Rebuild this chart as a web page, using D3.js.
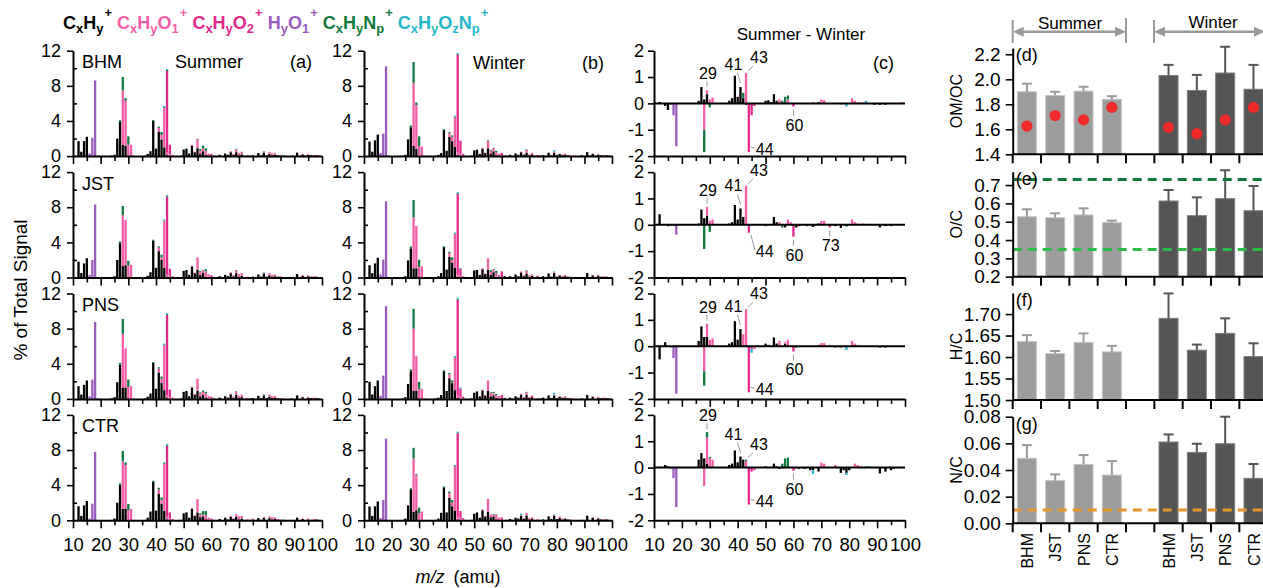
<!DOCTYPE html>
<html>
<head>
<meta charset="utf-8">
<script src="https://cdn.jsdelivr.net/npm/d3@7"></script>
<style>
  body { margin: 0; background: #fff; }
  svg { display: block; }
</style>
</head>
<body>
<svg width="1263" height="588"></svg>
<script>
// ion families, bottom to top of each stack
var families = ["CxHy", "CxHyO1", "CxHyO2", "HyO1", "CxHyNp", "CxHyOzNp"];
var familyColors = ["#000000", "#f45ea6", "#e3288b", "#9a5cbd", "#10793d", "#25b6c9"];
var sites = ["BHM", "JST", "PNS", "CTR"];
var mzTicks = [10, 20, 30, 40, 50, 60, 70, 80, 90, 100];

// spectra rows: [m/z, CxHy, CxHyO1, CxHyO2, HyO1, CxHyNp, CxHyOzNp]  (% of total signal)
var summerBHM = [
  [12,1.7],[13,0.5],[14,1.7],[15,2.2],[16,0,0,0,0.3],[17,0,0,0,2.1],[18,0,0,0,8.6],[19,0,0,0,0.05],
  [24,0.05],[25,0.15],[26,2.0],[27,3.9,0,0,0,0.2],[28,1.3,6.2,0,0,1.5],[29,1.2,5.1,0,0,0.3],[30,0.05,1.25,0,0,0.95],[31,0,1.3],[32,0,0.05],
  [36,0.05],[37,0.25],[38,0.55],[39,4.0,0,0,0,0.1],[40,0.85],[41,2.8,0.4,0,0,0.15],[42,1.9,0.5,0,0,0.35],[43,1.0,4.5,0,0,0.1,0.1],[44,0.1,0.3,9.3,0,0.1,0.1],[45,0,0.2,1.1],[46,0,0.05,0.1],
  [49,0.05],[50,0.75],[51,0.85],[52,0.3],[53,1.2,0.1],[54,0.45,0.05],[55,0.9,1.0,0,0,0.05],[56,0.3,0.3,0,0,0.2],[57,0.55,0.35,0,0,0.3],[58,0.1,0.5,0,0,0.3],[59,0,0.15,0.1],[60,0,0.05,0.2],[61,0.05],
  [63,0.15],[65,0.3],[66,0.15],[67,0.45,0.1],[68,0.15,0.1],[69,0.45,0.3,0,0,0.05],[70,0.1,0.25],[71,0.2,0.3],[72,0,0.05],[73,0,0,0.1],[74,0.05],[75,0.1],
  [77,0.35],[78,0.1],[79,0.4,0.1,0,0,0,0.05],[80,0.1],[81,0.25,0.2],[82,0.1,0.2],[83,0.15,0.2],[84,0.1],[85,0,0.15],[86,0,0.05,0,0,0,0.1],
  [89,0.05],[91,0.4],[92,0.05],[93,0.2,0.05],[94,0.05],[95,0.15,0.1],[96,0.1],[97,0.05,0.1],[98,0.1],[99,0.05,0.05]
];
var winterBHM = [
  [12,1.65],[13,0.5],[14,1.8],[15,2.45],[16,0,0,0,0.35],[17,0,0,0,2.55],[18,0,0,0,10.23],[19,0,0,0,0.05],
  [24,0.05],[25,0.15],[26,1.9],[27,3.28,0,0,0,0.2],[28,1.15,7.2,0,0,2.35],[29,0.85,4.95,0,0,0.3],[30,0.05,1.1,0,0,1.1],[31,0,1.08],[32,0,0.05],
  [36,0.05],[37,0.15],[38,0.35],[39,2.95,0,0,0,0.1],[40,0.6],[41,2.18,0.4,0,0,0.15],[42,1.7,0.5,0,0,0.15],[43,1.05,3.35,0,0,0.1,0.1],[44,0.1,0.3,11.15,0,0.1,0.1],[45,0,0.2,1.55],[46,0,0.1,0.15],
  [49,0.05],[50,0.65],[51,0.73],[52,0.25],[53,0.85,0.1],[54,0.35,0.05],[55,0.9,0.85,0,0,0.05],[56,0.3,0.3,0,0,0.1],[57,0.55,0.35,0,0,0.05],[58,0.1,0.35,0,0,0.15],[59,0,0.15,0.1],[60,0,0.05,0.32],[61,0.05],
  [63,0.15],[65,0.3],[66,0.15],[67,0.45,0.05],[68,0.15,0.1],[69,0.4,0.3,0,0,0.05],[70,0.1,0.1],[71,0.2,0.18],[72,0,0.05],[73,0,0,0.12],[74,0.05],[75,0.1],
  [77,0.38],[78,0.1],[79,0.4,0.1,0,0,0,0.17],[80,0.1],[81,0.25,0],[82,0.1,0.1],[83,0.15,0.15],[84,0.1],[85,0,0.1],[86,0,0.05],
  [89,0.1],[91,0.45],[92,0.05],[93,0.25,0.05],[94,0.05],[95,0.15,0.1],[96,0.1],[97,0.05,0.1],[98,0.1],[99,0.05]
];
var summerJST = [
  [12,1.8],[13,0.5],[14,1.6],[15,2.2],[16,0,0,0,0.3],[17,0,0,0,2.0],[18,0,0,0,8.3],[19,0,0,0,0.05],
  [24,0.05],[25,0.15],[26,2.0],[27,3.9,0,0,0,0.2],[28,1.3,5.8,0,0,1.05],[29,1.4,5.15],[30,0.05,1.3,0,0,0.55],[31,0,1.45],[32,0,0.05],
  [36,0.05],[37,0.2],[38,0.6],[39,4.2,0,0,0,0.1],[40,1.1],[41,3.0,0.4,0,0,0.15],[42,2.0,0.3,0,0,0.3],[43,1.1,5.3,0,0,0.1,0.1],[44,0.1,0.3,8.8,0,0.1,0.1],[45,0,0.2,0.8],[46,0,0.05,0.1],
  [49,0.05],[50,0.75],[51,0.85],[52,0.3],[53,1.25,0.1],[54,0.5,0.05],[55,0.9,1.4],[56,0.3,0.35,0,0,0.1],[57,0.5,0.3,0,0,0.05],[58,0.1,0.6,0,0,0.25],[59,0,0.25,0.1],[60,0,0.05,0.2],[61,0.05],
  [63,0.15],[65,0.3],[66,0.15],[67,0.5,0.1],[68,0.15,0.1],[69,0.5,0.3,0,0,0.05],[70,0.1,0.3],[71,0.2,0.3],[72,0,0.05],[73,0,0,0.1],[74,0.05],[75,0.1],
  [77,0.35],[78,0.1],[79,0.45,0.1,0,0,0,0.05],[80,0.1],[81,0.25,0.25],[82,0.1,0.2],[83,0.15,0.2],[84,0.1],[85,0,0.15],[86,0,0.05],
  [89,0.05],[91,0.4],[93,0.2,0.05],[95,0.15,0.1],[96,0.1],[97,0.05,0.1],[98,0.1],[99,0.05]
];
var winterJST = [
  [12,1.4],[13,0.5],[14,1.6],[15,2.25],[16,0,0,0,0.35],[17,0,0,0,2.05],[18,0,0,0,8.68],[19,0,0,0,0.05],
  [24,0.05],[25,0.15],[26,1.95],[27,3.32,0,0,0,0.2],[28,1.05,5.8,0,0,1.97],[29,1.05,4.82],[30,0.05,1.15,0,0,0.82],[31,0,1.25],[32,0,0.05],
  [36,0.05],[37,0.15],[38,0.5],[39,3.45,0,0,0,0.1],[40,0.9],[41,2.38,0.4,0,0,0.15],[42,1.7,0.3,0,0,0.3],[43,1.1,3.82,0,0,0.1,0.1],[44,0.1,0.3,9.1,0,0.1,0.1],[45,0,0.2,0.8,0,0,0.05],[46,0,0.05,0.1],
  [49,0.05],[50,0.8],[51,0.85],[52,0.3],[53,0.95,0.1],[54,0.4,0.05],[55,0.9,1.3],[56,0.3,0.35,0,0,0.2],[57,0.6,0.3,0,0,0.05],[58,0.1,0.4,0,0,0.25],[59,0,0.15,0.1],[60,0,0.05,0.65],[61,0.15],[62,0.05],
  [63,0.15],[65,0.35],[66,0.15],[67,0.58,0.1],[68,0.15,0.1],[69,0.45,0.3,0,0,0.05],[70,0.1,0.15],[71,0.2,0.15],[72,0,0.05],[73,0,0,0.2],[74,0.05],[75,0.15],
  [77,0.47],[78,0.1],[79,0.5,0.1,0,0,0,0.08],[80,0.1],[81,0.25,0.05],[82,0.1,0.1],[83,0.15,0.15],[84,0.1],[85,0,0.1],[86,0,0.05],
  [89,0.05],[91,0.5],[93,0.25,0.05],[95,0.2,0.1],[96,0.1],[97,0.05,0.1],[98,0.1],[99,0.05]
];
var summerPNS = [
  [12,1.45],[13,0.5],[14,1.6],[15,2.1],[16,0,0,0,0.3],[17,0,0,0,2.2],[18,0,0,0,8.75],[19,0,0,0,0.05],
  [24,0.05],[25,0.2],[26,1.9],[27,3.9,0,0,0,0.2],[28,1.3,6.1,0,0,1.7],[29,1.3,4.45],[30,0.05,1.3,0,0,0.85],[31,0,1.45],[32,0,0.05],
  [36,0.05],[37,0.25],[38,0.6],[39,4.1,0,0,0,0.1],[40,1.15],[41,3.0,0.45,0,0,0.15],[42,1.8,0.5,0,0,0.25],[43,1.0,5.1,0,0,0.1,0.1],[44,0.1,0.3,9.15,0,0.1,0.1],[45,0,0.2,0.85],[46,0,0.05,0.1],
  [49,0.05],[50,0.8],[51,0.9],[52,0.3],[53,1.3,0.1],[54,0.5,0.05],[55,0.9,1.4],[56,0.3,0.35,0,0,0.1],[57,0.5,0.3,0,0,0.15],[58,0.1,0.55,0,0,0.15],[59,0,0.2,0.1],[60,0,0.05,0.2],[61,0.05],
  [63,0.15],[65,0.3],[66,0.15],[67,0.5,0.1],[68,0.15,0.1],[69,0.5,0.3,0,0,0.05],[70,0.1,0.25],[71,0.2,0.3],[72,0,0.05],[73,0,0,0.12],[74,0.05],[75,0.1],
  [77,0.35],[78,0.1],[79,0.4,0.1,0,0,0,0.05],[80,0.1],[81,0.25,0.25],[82,0.1,0.2],[83,0.15,0.2],[84,0.1],[85,0,0.1],[86,0,0.05],
  [89,0.05],[91,0.4],[93,0.2,0.05],[95,0.15,0.1],[96,0.1],[97,0.05,0.1],[98,0.1],[99,0.05]
];
var winterPNS = [
  [12,1.95],[13,0.5],[14,1.45],[15,2.1],[16,0,0,0,0.35],[17,0,0,0,2.65],[18,0,0,0,10.55],[19,0,0,0,0.05],
  [24,0.05],[25,0.2],[26,1.7],[27,3.15,0,0,0,0.2],[28,0.95,7.05,0,0,2.25],[29,0.95,3.95],[30,0.05,1.05,0,0,0.85],[31,0,1.15],[32,0,0.05],
  [36,0.05],[37,0.15],[38,0.45],[39,3.15,0,0,0,0.1],[40,0.9],[41,2.35,0.45,0,0,0.15],[42,1.8,0.05,0,0,0.25],[43,1.0,3.7,0,0,0.1,0.1],[44,0.1,0.3,10.9,0,0.1,0.1],[45,0,0.2,0.95,0,0,0.15],[46,0,0.1,0.15],
  [49,0.05],[50,0.7],[51,0.85],[52,0.3],[53,0.97,0.1],[54,0.4,0.05],[55,0.9,1.2],[56,0.3,0.35,0,0,0.1],[57,0.4,0.25,0,0,0.15],[58,0.1,0.3,0,0,0.15],[59,0,0.2,0.1],[60,0,0.05,0.4],[61,0.1],
  [63,0.15],[64,0.03],[65,0.3],[66,0.15],[67,0.5,0.1],[68,0.15,0.1],[69,0.45,0.3,0,0,0.05],[70,0.1,0.13],[71,0.2,0.18],[72,0,0.05],[73,0,0,0.07],[74,0.05],[75,0.15],
  [77,0.4],[78,0.1],[79,0.4,0.1,0,0,0,0.2],[80,0.1],[81,0.25,0.05],[82,0.1,0.1],[83,0.15,0.15],[84,0.1],[85,0,0.13],[86,0,0.05],
  [89,0.05],[91,0.45],[93,0.25,0.05],[95,0.15,0.1],[96,0.1],[97,0.05,0.1],[98,0.1],[99,0.05]
];
var summerCTR = [
  [12,1.6],[13,0.5],[14,1.7],[15,2.2],[16,0,0,0,0.2],[17,0,0,0,1.9],[18,0,0,0,7.8],[19,0,0,0,0.05],
  [24,0.05],[25,0.2],[26,2.0],[27,4.0,0,0,0,0.2],[28,1.3,5.4,0,0,1.2],[29,1.3,5.0,0,0,0.3],[30,0.05,1.1,0,0,0.7],[31,0,1.3],[32,0,0.05],
  [36,0.05],[37,0.3],[38,1.0],[39,4.4,0,0,0,0.1],[40,1.1],[41,3.0,0.5,0,0,0.2],[42,1.9,0.4,0,0,0.3],[43,1.1,5.3,0,0,0.1,0.1],[44,0.1,0.3,8.1,0,0.1,0.1],[45,0,0.2,0.7],[46,0,0.05,0.1],
  [49,0.05],[50,0.8],[51,0.9],[52,0.3],[53,1.3,0.1],[54,0.5,0.05],[55,0.9,1.5],[56,0.35,0.3,0,0,0.15],[57,0.45,0.2,0,0,0.4],[58,0.1,0.5,0,0,0.45],[59,0,0.2,0.1],[60,0,0.05,0.15],[61,0.05],
  [63,0.15],[65,0.3],[66,0.1],[67,0.4,0.1],[68,0.15,0.1],[69,0.4,0.3],[70,0.1,0.35],[71,0.2,0.3],[72,0,0.05],[73,0,0,0.1],[74,0.05],[75,0.1,0.1],
  [77,0.25],[78,0.05],[79,0.3,0.1],[80,0.05],[81,0.25,0.2],[82,0.1,0.25],[83,0.15,0.2],[84,0.1,0.05],[85,0,0.1],[86,0,0.05,0,0,0,0.05],[87,0,0,0,0,0,0.05],
  [89,0.05],[91,0.3],[93,0.15,0.05],[95,0.1,0.1],[96,0.05],[97,0.05,0.1],[98,0.1],[99,0.05]
];
var winterCTR = [
  [12,1.57],[13,0.5],[14,1.6],[15,2.15],[16,0,0,0,0.25],[17,0,0,0,2.3],[18,0,0,0,9.3],[19,0,0,0,0.05],
  [24,0.05],[25,0.2],[26,1.7],[27,3.45,0,0,0,0.2],[28,0.95,6.1,0,0,1.2],[29,1.15,4.0,0,0,0.1],[30,0.05,0.75,0,0,0.65],[31,0,1.0],[32,0,0.05],
  [36,0.05],[37,0.2],[38,0.85],[39,3.75,0,0,0,0.1],[40,0.9],[41,2.58,0.5,0,0,0.2],[42,1.6,0.4,0,0,0.3],[43,1.1,5.05,0,0,0.05,0.1],[44,0.1,0.3,9.5,0,0.1,0.1],[45,0,0.2,0.85],[46,0,0.1,0.15],
  [49,0.05],[50,0.75],[51,0.9],[52,0.3],[53,1.15,0.1],[54,0.45,0.05],[55,0.95,1.5],[56,0.35,0.3],[57,0.45,0.2,0,0,0.05],[58,0.1,0.5,0,0,0.07],[59,0,0.2,0.1],[60,0,0.05,0.27],[61,0.05],[62,0.05],
  [63,0.15],[64,0.05],[65,0.3],[66,0.2],[67,0.5,0.1,0,0,0,0.15],[68,0.15,0.1],[69,0.55,0.3],[70,0.1,0.15],[71,0.2,0.15],[72,0,0.05],[73,0,0,0.1],[74,0.05],[75,0.1,0],
  [77,0.45],[78,0.15],[79,0.5,0.1,0,0,0,0.08],[80,0.15],[81,0.25,0.2],[82,0.1,0.1],[83,0.15,0.1],[84,0.1],[85,0,0.1],[86,0,0.05],
  [89,0.05],[91,0.52],[93,0.3,0.05],[95,0.2,0.1],[96,0.1],[97,0.05,0.1],[98,0.1],[99,0.05]
];
var summerSpectra = [summerBHM, summerJST, summerPNS, summerCTR];
var winterSpectra = [winterBHM, winterJST, winterPNS, winterCTR];
// m/z labelled in the difference panels
var diffLabels = [[29, 41, 43, 44, 60], [29, 41, 43, 44, 60, 73], [29, 41, 43, 44, 60], [29, 41, 43, 44, 60]];

// bulk ratios (bars = mean, err = upper error)
var omocSummer = [1.90, 1.87, 1.905, 1.84];
var omocSummerErr = [0.065, 0.03, 0.035, 0.025];
var omocWinter = [2.03, 1.91, 2.05, 1.92];
var omocWinterErr = [0.085, 0.125, 0.21, 0.195];
var omocDotSummer = [1.625, 1.71, 1.675, 1.775];
var omocDotWinter = [1.615, 1.565, 1.675, 1.775];
var ocSummer = [0.527, 0.522, 0.537, 0.495];
var ocSummerErr = [0.041, 0.024, 0.036, 0.011];
var ocWinter = [0.613, 0.533, 0.626, 0.56];
var ocWinterErr = [0.06, 0.10, 0.155, 0.135];
var ocRefLines = [0.731, 0.349];
var hcSummer = [1.636, 1.608, 1.634, 1.612];
var hcSummerErr = [0.015, 0.006, 0.021, 0.014];
var hcWinter = [1.690, 1.616, 1.655, 1.601];
var hcWinterErr = [0.058, 0.013, 0.035, 0.031];
var ncSummer = [0.0488, 0.032, 0.0442, 0.0362];
var ncSummerErr = [0.0099, 0.0047, 0.007, 0.0105];
var ncWinter = [0.061, 0.0532, 0.0597, 0.0337];
var ncWinterErr = [0.0057, 0.0065, 0.0203, 0.0108];
var ncRefLine = 0.01;

var FONT = '"Liberation Sans", Arial, Helvetica, sans-serif';
var svg = d3.select("svg").attr("font-family", FONT);

// layout
var colX = [[73, 322], [364, 612], [654, 905]];
var rowTop0 = 50.7, rowH = 105.4, rowStep = 121.4;
var barW = 2.3;

function styleAxis(g, fs) {
  g.attr("font-family", FONT).attr("font-size", fs || 17);
  g.select(".domain").attr("stroke-width", 2);
  g.selectAll(".tick line").attr("stroke-width", 1.6);
  g.selectAll(".tick text").attr("fill", "#000");
}

// stacked bars, positives up from 0, negatives down from 0
function drawStack(g, rows, x, y) {
  var segs = [];
  rows.forEach(function(r) {
    var up = 0, down = 0;
    families.forEach(function(f, k) {
      var v = r[k + 1] || 0;
      if (v > 1e-6) { segs.push({ mz: r[0], k: k, a: up, b: up + v }); up += v; }
      else if (v < -1e-6) { segs.push({ mz: r[0], k: k, a: down + v, b: down }); down += v; }
    });
  });
  g.selectAll(null).data(segs).enter().append("rect")
    .attr("x", function(d) { return x(d.mz) - barW / 2; })
    .attr("width", barW)
    .attr("y", function(d) { return y(d.b); })
    .attr("height", function(d) { return Math.max(0.6, y(d.a) - y(d.b)); })
    .attr("fill", function(d) { return familyColors[d.k]; });
}

function diffRows(s, w) {
  var m = new Map();
  s.forEach(function(r) { m.set(r[0], families.map(function(f, k) { return r[k + 1] || 0; })); });
  w.forEach(function(r) {
    var a = m.get(r[0]) || families.map(function() { return 0; });
    families.forEach(function(f, k) { a[k] -= (r[k + 1] || 0); });
    m.set(r[0], a);
  });
  return Array.from(m, function(e) { return [e[0]].concat(e[1]); }).sort(function(p, q) { return p[0] - q[0]; });
}

function mzAxes(g, x, yBase, withLabels) {
  var ax = g.append("g").attr("transform", "translate(0," + yBase + ")")
    .call(d3.axisBottom(x).tickValues(mzTicks).tickSize(8).tickSizeOuter(0).tickPadding(10)
      .tickFormat(withLabels ? d3.format("d") : ""));
  styleAxis(ax, 18.5);
  var minor = g.append("g").attr("transform", "translate(0," + yBase + ")")
    .call(d3.axisBottom(x).tickValues(d3.range(15, 100, 10)).tickSize(5).tickFormat(""));
  minor.select(".domain").remove();
  minor.selectAll(".tick line").attr("stroke-width", 1.6);
}

// legend
var legendItems = [
  [["C"], ["x", "sub"], ["H"], ["y", "sub"], ["+", "sup"]],
  [["C"], ["x", "sub"], ["H"], ["y", "sub"], ["O"], ["1", "sub"], ["+", "sup"]],
  [["C"], ["x", "sub"], ["H"], ["y", "sub"], ["O"], ["2", "sub"], ["+", "sup"]],
  [["H"], ["y", "sub"], ["O"], ["1", "sub"], ["+", "sup"]],
  [["C"], ["x", "sub"], ["H"], ["y", "sub"], ["N"], ["p", "sub"], ["+", "sup"]],
  [["C"], ["x", "sub"], ["H"], ["y", "sub"], ["O"], ["z", "sub"], ["N"], ["p", "sub"], ["+", "sup"]]
];
var lx = 63;
legendItems.forEach(function(parts, i) {
  var t = svg.append("text").attr("x", lx).attr("y", 29)
    .attr("font-weight", "bold").attr("fill", familyColors[i]);
  parts.forEach(function(p) {
    t.append("tspan")
      .attr("y", p[1] === "sub" ? 33 : p[1] === "sup" ? 17 : 29)
      .attr("dx", p[1] === "sup" ? 1 : 0)
      .attr("font-size", p[1] ? 13 : 18)
      .text(p[0]);
  });
  lx += t.node().getComputedTextLength() + 6;
});

// mass spectra, rows = sites
for (var r = 0; r < 4; r++) {
  var rowTop = rowTop0 + r * rowStep, rowBot = rowTop + rowH;
  var ySpec = d3.scaleLinear().domain([0, 12]).range([rowBot, rowTop]);
  var yDiff = d3.scaleLinear().domain([-2, 2]).range([rowBot, rowTop]);

  [summerSpectra[r], winterSpectra[r]].forEach(function(rows, c) {
    var x = d3.scaleLinear().domain([10, 100]).range(colX[c]);
    var g = svg.append("g");
    drawStack(g, rows, x, ySpec);
    mzAxes(g, x, rowBot, r === 3);
    var ay = g.append("g").attr("transform", "translate(" + colX[c][0] + ",0)")
      .call(d3.axisLeft(ySpec).tickValues([0, 4, 8, 12]).tickSize(6).tickPadding(6).tickSizeOuter(0));
    styleAxis(ay, 18);
    var my = g.append("g").attr("transform", "translate(" + colX[c][0] + ",0)")
      .call(d3.axisRight(ySpec).tickValues([2, 6, 10]).tickSize(4).tickFormat(""));
    my.select(".domain").remove();
    my.selectAll(".tick line").attr("stroke-width", 1.6);
  });

  // site name
  svg.append("text").attr("x", 82).attr("y", rowTop + 17.5).attr("font-size", 18).text(sites[r]);

  // difference panel
  var xd = d3.scaleLinear().domain([10, 100]).range(colX[2]);
  var gd = svg.append("g");
  var drows = diffRows(summerSpectra[r], winterSpectra[r]);
  drawStack(gd, drows, xd, yDiff);
  gd.append("line").attr("x1", colX[2][0]).attr("x2", colX[2][1])
    .attr("y1", yDiff(0)).attr("y2", yDiff(0)).attr("stroke", "#000").attr("stroke-width", 2);
  mzAxes(gd, xd, rowBot, r === 3);
  var ayd = gd.append("g").attr("transform", "translate(" + colX[2][0] + ",0)")
    .call(d3.axisLeft(yDiff).tickValues([-2, -1, 0, 1, 2]).tickSize(6).tickPadding(4).tickSizeOuter(0)
      .tickFormat(function(d) { return String(d); }));
  styleAxis(ayd, 18);

  // labelled peaks
  var ext = new Map();
  drows.forEach(function(d) {
    var up = 0, dn = 0;
    d.slice(1).forEach(function(v) { if (v > 0) up += v; else dn += v; });
    ext.set(d[0], { up: up, dn: dn });
  });
  var y0 = yDiff(0);
  diffLabels[r].forEach(function(mz) {
    var e = ext.get(mz), px = xd(mz);
    var yT = yDiff(e.up), yB = yDiff(e.dn);
    var tx, ty, anchor = "middle", l;
    if (mz === 29) { tx = px + 1; ty = yT - 11; l = [px, yT - 9, px, yT - 3]; }
    else if (mz === 41) { tx = px - 7; ty = yT - 17; l = [px - 3, yT - 14, px, yT - 4]; }
    else if (mz === 43) { tx = px + 4; ty = yT - 10; anchor = "start"; l = [px + 2, yT - 2, px + 7, yT - 7]; }
    else if (mz === 44) {
      var cy = Math.max(yB - 3, y0 + 26);
      tx = px + 7; ty = cy + 6; anchor = "start"; l = [px + 2, Math.min(yB + 2, cy - 2), px + 6, cy - 1];
    }
    else { tx = px + 1; ty = yB + 24; l = [px, yB + 3, px, yB + 9]; }
    gd.append("line").attr("x1", l[0]).attr("y1", l[1]).attr("x2", l[2]).attr("y2", l[3])
      .attr("stroke", "#999").attr("stroke-width", 1);
    gd.append("text").attr("x", tx).attr("y", ty).attr("text-anchor", anchor)
      .attr("font-size", 16).text(mz);
  });
}

// panel titles
svg.append("text").attr("x", 175).attr("y", 68).attr("font-size", 18).text("Summer");
svg.append("text").attr("x", 290).attr("y", 68).attr("font-size", 18).text("(a)");
svg.append("text").attr("x", 473).attr("y", 69).attr("font-size", 18).text("Winter");
svg.append("text").attr("x", 582).attr("y", 69).attr("font-size", 18).text("(b)");
svg.append("text").attr("x", 801).attr("y", 40).attr("font-size", 17).attr("text-anchor", "middle").text("Summer - Winter");
svg.append("text").attr("x", 873).attr("y", 69).attr("font-size", 18).text("(c)");

svg.append("text").attr("transform", "translate(27,290) rotate(-90)")
  .attr("text-anchor", "middle").attr("font-size", 19).text("% of Total Signal");
var xt = svg.append("text").attr("x", 458).attr("y", 583).attr("text-anchor", "middle").attr("font-size", 18);
xt.append("tspan").attr("font-style", "italic").text("m/z");
xt.append("tspan").attr("dx", 9).text("(amu)");

// bulk ratio panels
var slots = ["sBHM", "sJST", "sPNS", "sCTR", "gap", "wBHM", "wJST", "wPNS", "wCTR"];
var bx0 = 1012.7, bstep = 28.33;
var xb = d3.scaleBand().domain(slots).range([bx0, bx0 + 9 * bstep]).paddingInner(0.33).paddingOuter(0.165);

var ratioPanels = [
  { tag: "(d)", title: "OM/OC", s: omocSummer, se: omocSummerErr, w: omocWinter, we: omocWinterErr,
    domain: [1.4, 2.25], range: [154.3, 48], ticks: [1.4, 1.6, 1.8, 2.0, 2.2], fmt: ".1f" },
  { tag: "(e)", title: "O/C", s: ocSummer, se: ocSummerErr, w: ocWinter, we: ocWinterErr,
    domain: [0.2, 0.773], range: [276.7, 171.7], ticks: [0.2, 0.3, 0.4, 0.5, 0.6, 0.7], fmt: ".1f" },
  { tag: "(f)", title: "H/C", s: hcSummer, se: hcSummerErr, w: hcWinter, we: hcWinterErr,
    domain: [1.5, 1.749], range: [400, 293], ticks: [1.5, 1.55, 1.6, 1.65, 1.7], fmt: ".2f" },
  { tag: "(g)", title: "N/C", s: ncSummer, se: ncSummerErr, w: ncWinter, we: ncWinterErr,
    domain: [0, 0.08], range: [523.3, 416.7], ticks: [0, 0.02, 0.04, 0.06, 0.08], fmt: ".2f" }
];

ratioPanels.forEach(function(p, pi) {
  var y = d3.scaleLinear().domain(p.domain).range(p.range);
  var g = svg.append("g");
  var bars = [];
  sites.forEach(function(s, i) {
    bars.push({ slot: "s" + s, v: p.s[i], e: p.se[i], season: 0 });
    bars.push({ slot: "w" + s, v: p.w[i], e: p.we[i], season: 1 });
  });
  var fillC = ["#9c9c9c", "#555555"], edgeC = ["#c4c4c4", "#7c7c7c"], errC = ["#9a9a9a", "#555555"];
  g.selectAll(null).data(bars).enter().append("rect")
    .attr("x", function(d) { return xb(d.slot); })
    .attr("width", xb.bandwidth())
    .attr("y", function(d) { return y(d.v); })
    .attr("height", function(d) { return y(p.domain[0]) - y(d.v); })
    .attr("fill", function(d) { return fillC[d.season]; })
    .attr("stroke", function(d) { return edgeC[d.season]; })
    .attr("stroke-width", 1);
  var eb = g.selectAll(null).data(bars).enter().append("g")
    .attr("stroke", function(d) { return errC[d.season]; }).attr("stroke-width", 2);
  eb.append("line")
    .attr("x1", function(d) { return xb(d.slot) + xb.bandwidth() / 2; })
    .attr("x2", function(d) { return xb(d.slot) + xb.bandwidth() / 2; })
    .attr("y1", function(d) { return y(d.v); })
    .attr("y2", function(d) { return y(d.v + d.e); });
  eb.append("line")
    .attr("x1", function(d) { return xb(d.slot) + xb.bandwidth() / 2 - 5; })
    .attr("x2", function(d) { return xb(d.slot) + xb.bandwidth() / 2 + 5; })
    .attr("y1", function(d) { return y(d.v + d.e); })
    .attr("y2", function(d) { return y(d.v + d.e); });

  if (pi === 0) {
    var dots = [];
    sites.forEach(function(s, i) {
      dots.push({ slot: "s" + s, v: omocDotSummer[i] });
      dots.push({ slot: "w" + s, v: omocDotWinter[i] });
    });
    g.selectAll(null).data(dots).enter().append("circle")
      .attr("cx", function(d) { return xb(d.slot) + xb.bandwidth() / 2; })
      .attr("cy", function(d) { return y(d.v); })
      .attr("r", 5.6).attr("fill", "#ee2a2a");
  }
  var refs = [];
  if (pi === 1) refs = [[ocRefLines[0], "#137a3c"], [ocRefLines[1], "#2cbc4a"]];
  if (pi === 3) refs = [[ncRefLine, "#e8952c"]];
  refs.forEach(function(rf) {
    g.append("line").attr("x1", bx0).attr("x2", 1263).attr("y1", y(rf[0])).attr("y2", y(rf[0]))
      .attr("stroke", rf[1]).attr("stroke-width", 3).attr("stroke-dasharray", "9,6");
  });

  // axes
  var base = y(p.domain[0]);
  g.append("line").attr("x1", bx0).attr("x2", 1263).attr("y1", base).attr("y2", base)
    .attr("stroke", "#000").attr("stroke-width", 2);
  g.selectAll(null).data(d3.range(10)).enter().append("line")
    .attr("x1", function(k) { return bx0 + k * xb.step(); })
    .attr("x2", function(k) { return bx0 + k * xb.step(); })
    .attr("y1", base).attr("y2", base + 9)
    .attr("stroke", "#000").attr("stroke-width", 2);
  var ay = g.append("g").attr("transform", "translate(" + bx0 + ",0)")
    .call(d3.axisLeft(y).tickValues(p.ticks).tickFormat(d3.format(p.fmt)).tickSize(7).tickPadding(5).tickSizeOuter(0));
  styleAxis(ay, 19);
  g.append("text").attr("x", bx0 + 3).attr("y", p.range[1] + 13).attr("font-size", 18).text(p.tag);
  g.append("text").attr("transform", "translate(962," + ((p.range[0] + p.range[1]) / 2) + ") rotate(-90)")
    .attr("text-anchor", "middle").attr("font-size", 16).text(p.title);
});

// site names under the bottom panel
svg.selectAll(null).data(slots.filter(function(s) { return s !== "gap"; })).enter().append("text")
  .attr("transform", function(s) { return "translate(" + (xb(s) + xb.bandwidth() / 2 + 6) + ",533) rotate(-90)"; })
  .attr("text-anchor", "end").attr("font-size", 16)
  .text(function(s) { return s.slice(1); });

// season brackets
var grey = "#9a9a9a";
function seasonArrow(xa, xb2, label, lxPos, ly) {
  var g = svg.append("g");
  g.append("line").attr("x1", xa).attr("x2", xa).attr("y1", 20).attr("y2", 43).attr("stroke", grey).attr("stroke-width", 2);
  g.append("line").attr("x1", xa + 8).attr("x2", xb2 - 8).attr("y1", 31.7).attr("y2", 31.7).attr("stroke", grey).attr("stroke-width", 2.5);
  g.append("path").attr("d", "M" + xa + ",31.7 l11,-5 v10 z").attr("fill", grey);
  g.append("path").attr("d", "M" + xb2 + ",31.7 l-11,-5 v10 z").attr("fill", grey);
  g.append("text").attr("x", lxPos).attr("y", ly).attr("text-anchor", "middle").attr("font-size", 17).text(label);
  return g;
}
seasonArrow(bx0, 1126, "Summer", 1070, 29);
svg.append("line").attr("x1", 1126).attr("x2", 1126).attr("y1", 18).attr("y2", 43).attr("stroke", grey).attr("stroke-width", 2);
seasonArrow(1154, 1265, "Winter", 1213, 28);
</script>
</body>
</html>
